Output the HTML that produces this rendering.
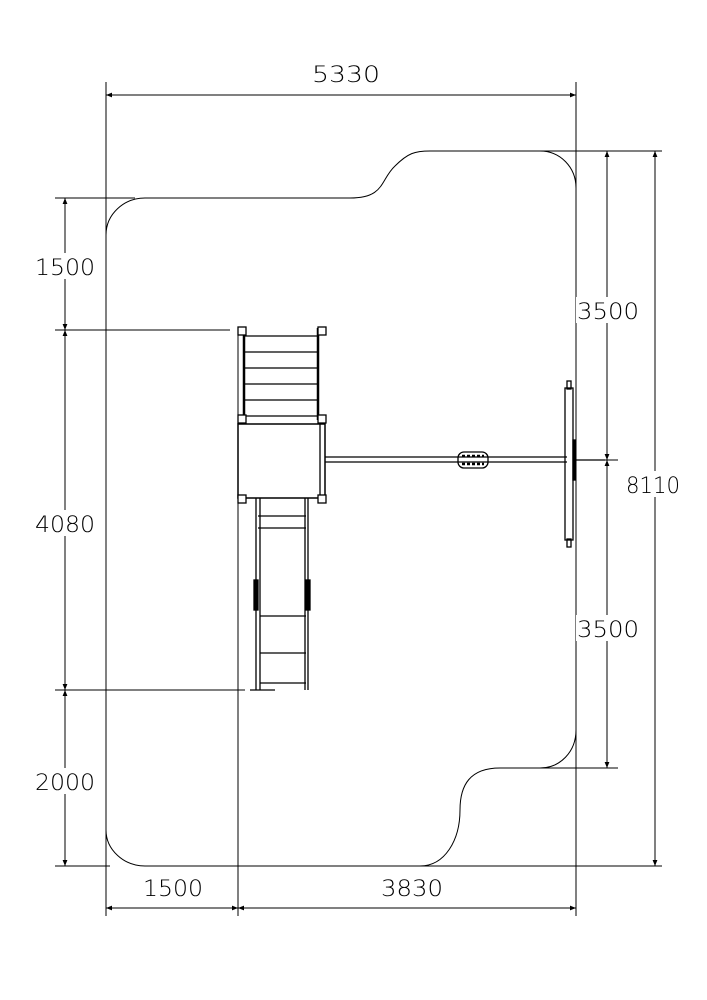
<!DOCTYPE html><html><head><style>body{margin:0;background:#fff}svg{display:block}text{font-family:"DejaVu Sans","Liberation Sans",sans-serif;font-size:22px;fill:#000;font-weight:200}</style></head><body>
<svg width="707" height="1000" viewBox="0 0 707 1000" xmlns="http://www.w3.org/2000/svg">
<defs><marker id="a" viewBox="0 0 10 10" refX="10" refY="5" markerWidth="14" markerHeight="6" orient="auto-start-reverse" markerUnits="userSpaceOnUse"><path d="M0,1 L10,5 L0,9 z" fill="#000"/></marker></defs>
<g stroke="#000" stroke-width="1" fill="none">
<line x1="106" y1="82" x2="106" y2="916"/>
<line x1="576" y1="82" x2="576" y2="916"/>
<line x1="238" y1="330" x2="238" y2="916"/>
<line x1="55" y1="198" x2="135" y2="198"/>
<line x1="55" y1="330" x2="230" y2="330"/>
<line x1="55" y1="690" x2="245" y2="690"/>
<line x1="55" y1="866" x2="110" y2="866"/>
<line x1="540" y1="151" x2="662" y2="151"/>
<line x1="575" y1="460" x2="618" y2="460"/>
<line x1="540" y1="768" x2="618" y2="768"/>
<line x1="420" y1="866" x2="662" y2="866"/>
<line x1="106" y1="95" x2="576" y2="95" marker-start="url(#a)" marker-end="url(#a)"/>
<line x1="106" y1="908" x2="238" y2="908" marker-start="url(#a)" marker-end="url(#a)"/>
<line x1="238" y1="908" x2="576" y2="908" marker-start="url(#a)" marker-end="url(#a)"/>
<line x1="65" y1="198" x2="65" y2="330" marker-start="url(#a)" marker-end="url(#a)"/>
<line x1="65" y1="330" x2="65" y2="690" marker-start="url(#a)" marker-end="url(#a)"/>
<line x1="65" y1="690" x2="65" y2="866" marker-start="url(#a)" marker-end="url(#a)"/>
<line x1="607" y1="151" x2="607" y2="460" marker-start="url(#a)" marker-end="url(#a)"/>
<line x1="607" y1="460" x2="607" y2="768" marker-start="url(#a)" marker-end="url(#a)"/>
<line x1="655" y1="151" x2="655" y2="866" marker-start="url(#a)" marker-end="url(#a)"/>
<path d="M145,198 L350,198 C385,198 380,180 395,166 C408,153 415,151 430,151 L540,151 C560,151 576,167 576,188 L576,730 C576,752 560,768 540,768 L500,768 C470,768 460,785 460,810 C460,840 445,866 420,866 L145,866 C124,866 106,850 106,830 L106,235 C106,214 124,198 145,198 Z"/>
<g stroke-width="1.3">
<line x1="244" y1="328" x2="244" y2="420" stroke-width="2.5"/>
<line x1="318" y1="328" x2="318" y2="420" stroke-width="2.5"/>
<line x1="244" y1="336" x2="318" y2="336"/><line x1="244" y1="352" x2="318" y2="352"/><line x1="244" y1="368" x2="318" y2="368"/><line x1="244" y1="384" x2="318" y2="384"/><line x1="244" y1="400" x2="318" y2="400"/><line x1="244" y1="416" x2="318" y2="416"/>
<rect x="238" y="424" width="87" height="74" stroke-width="1.5"/>
<line x1="320" y1="424" x2="320" y2="498"/>
<rect x="238" y="327" width="8" height="8" fill="#fff"/><rect x="318" y="327" width="8" height="8" fill="#fff"/>
<rect x="238" y="415" width="8" height="8" fill="#fff"/><rect x="318" y="415" width="8" height="8" fill="#fff"/>
<rect x="238" y="495" width="8" height="8" fill="#fff"/><rect x="318" y="495" width="8" height="8" fill="#fff"/>
<path d="M256,498 L256,690 M260,498 L260,690 M305,498 L305,690 M308,498 L308,690" />
<line x1="258" y1="516" x2="306" y2="516"/><line x1="258" y1="528" x2="306" y2="528"/>
<line x1="260" y1="616" x2="306" y2="616"/><line x1="260" y1="653" x2="306" y2="653"/><line x1="260" y1="683" x2="306" y2="683"/>
<rect x="254" y="580" width="4" height="30" fill="#000"/><rect x="306" y="580" width="4" height="30" fill="#000"/>
<line x1="250" y1="690" x2="275" y2="690"/>
<line x1="325" y1="457" x2="567" y2="457"/><line x1="325" y1="462" x2="567" y2="462"/>
<rect x="458" y="452" width="30" height="16" rx="6"/>
<line x1="462" y1="456" x2="484" y2="456" stroke-dasharray="3,2" stroke-width="2.5"/>
<line x1="462" y1="464" x2="484" y2="464" stroke-dasharray="3,2" stroke-width="2.5"/>
<rect x="565" y="388" width="8" height="152"/>
<rect x="567" y="381" width="4" height="8"/><rect x="567" y="539" width="4" height="8"/>
<rect x="573" y="440" width="2" height="40" fill="#000"/>
<line x1="576" y1="460" x2="605" y2="460"/>
</g>
</g>
<g fill="#fff">
<rect x="34" y="253" width="62" height="26"/>
<rect x="34" y="510" width="62" height="26"/>
<rect x="34" y="768" width="62" height="26"/>
<rect x="576" y="297" width="64" height="26"/>
<rect x="576" y="615" width="64" height="26"/>
<rect x="624" y="471" width="58" height="26"/>
</g>
<text x="312" y="82" textLength="68" lengthAdjust="spacingAndGlyphs">5330</text>
<text x="143" y="896" textLength="60" lengthAdjust="spacingAndGlyphs">1500</text>
<text x="381" y="896" textLength="62" lengthAdjust="spacingAndGlyphs">3830</text>
<text x="35" y="275" textLength="60" lengthAdjust="spacingAndGlyphs">1500</text>
<text x="35" y="532" textLength="60" lengthAdjust="spacingAndGlyphs">4080</text>
<text x="35" y="790" textLength="60" lengthAdjust="spacingAndGlyphs">2000</text>
<text x="577" y="319" textLength="62" lengthAdjust="spacingAndGlyphs">3500</text>
<text x="577" y="637" textLength="62" lengthAdjust="spacingAndGlyphs">3500</text>
<text x="626" y="493" textLength="54" lengthAdjust="spacingAndGlyphs">8110</text>
</svg></body></html>
